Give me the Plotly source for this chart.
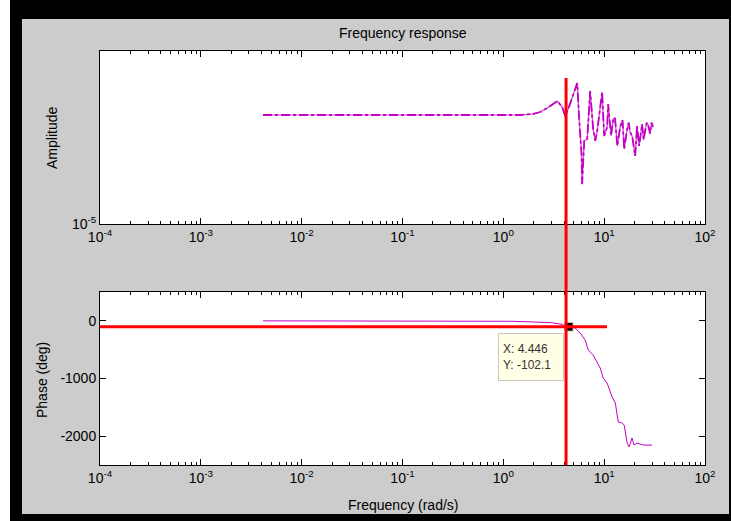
import plotly.graph_objects as go

# ---------------- data ----------------
freq_amp = [0.00414, 0.01, 0.03, 0.1, 0.3, 0.8, 1.47, 2.0, 2.32, 2.73, 3.43, 3.84,
            4.11, 4.40, 4.93, 5.41, 5.65, 5.78, 5.95, 6.05, 6.34, 6.79, 7.26, 7.78,
            8.15, 8.53, 9.55, 10.0, 10.7, 10.96, 11.7, 12.3, 12.8, 13.5, 14.0, 14.4,
            15.2, 15.8, 16.9, 17.5, 18.1, 19.0, 20.3, 21.2, 22.2, 23.8, 24.6, 25.5,
            26.4, 27.3, 28.5, 29.5, 30.5]
amp = [3.61e-5, 3.61e-5, 3.61e-5, 3.61e-5, 3.61e-5, 3.61e-5, 3.61e-5, 3.66e-5, 3.74e-5,
       3.92e-5, 4.25e-5, 3.96e-5, 3.56e-5, 3.87e-5, 4.62e-5, 5.26e-5, 3.44e-5, 2.72e-5,
       2.33e-5, 1.60e-5, 2.66e-5, 2.72e-5, 4.79e-5, 3.06e-5, 2.66e-5, 2.99e-5, 4.73e-5,
       2.82e-5, 3.13e-5, 4.11e-5, 2.82e-5, 3.44e-5, 3.50e-5, 2.51e-5, 2.90e-5, 3.13e-5,
       3.40e-5, 2.42e-5, 3.06e-5, 3.30e-5, 2.95e-5, 2.80e-5, 2.23e-5, 3.17e-5, 2.51e-5,
       3.24e-5, 2.70e-5, 2.99e-5, 3.30e-5, 3.21e-5, 2.90e-5, 3.30e-5, 3.13e-5]

freq_phase = [0.00414, 0.01, 0.1, 0.5, 1.2, 1.6, 2.3, 3.0, 3.8, 4.446, 5.16, 5.78, 6.48,
              6.95, 7.78, 8.53, 9.13, 9.78, 10.7, 12.0, 12.9, 13.8, 15.1, 15.8, 16.9,
              17.7, 18.9, 19.8, 21.2, 24.3, 29.9]
phase = [0, 0, -2, -5, -8, -14, -20, -32, -60, -102.1, -125, -212, -333, -506, -593,
         -714, -818, -992, -1079, -1321, -1425, -1755, -1772, -1807, -2119, -2188,
         -2032, -2154, -2119, -2154, -2154]

datatip_x = 4.446
datatip_y = -102.1
cursor_x = 4.19

x_tickvals = [1e-4, 1e-3, 1e-2, 1e-1, 1e0, 1e1, 1e2]
x_ticktext = ["10<sup>-4</sup>", "10<sup>-3</sup>", "10<sup>-2</sup>", "10<sup>-1</sup>",
              "10<sup>0</sup>", "10<sup>1</sup>", "10<sup>2</sup>"]
amp_tickvals = [1e-5]
amp_ticktext = ["10<sup>-5</sup>"]
phase_tickvals = [-2000, -1000, 0]
phase_ticktext = ["-2000", "-1000", "0"]

# ---------------- styling ----------------
FONT = "Liberation Sans, Arial, Helvetica, sans-serif"
MAG = "#c400c4"
MAG_LINE = "#cc44cc"
GRAY = "#cccccc"

minor_vals = [k * 10.0 ** d for d in range(-4, 2) for k in range(2, 10)]

def xaxis_cfg(anchor):
    return dict(
        type="log", range=[-4, 2], anchor=anchor,
        showgrid=False, zeroline=False, showline=True, linecolor="black", linewidth=1,
        mirror="allticks", ticks="inside", ticklen=6, tickcolor="black",
        tickvals=x_tickvals, ticktext=x_ticktext,
        tickfont=dict(family=FONT, size=14, color="black"),
        minor=dict(tickvals=minor_vals, ticks="inside", ticklen=3, tickcolor="black",
                   showgrid=False),
    )

fig = go.Figure()

fig.add_trace(go.Scatter(x=freq_amp, y=amp, mode="lines", xaxis="x", yaxis="y",
                         line=dict(color=MAG_LINE, width=1.2), showlegend=False,
                         hoverinfo="skip"))
fig.add_trace(go.Scatter(x=freq_amp, y=amp, mode="lines", xaxis="x", yaxis="y",
                         line=dict(color=MAG, width=1.8, dash="dashdot"), showlegend=False,
                         hoverinfo="skip"))
fig.add_trace(go.Scatter(x=freq_phase, y=phase, mode="lines", xaxis="x2", yaxis="y2",
                         line=dict(color=MAG, width=1), showlegend=False,
                         hoverinfo="skip"))

# paper-coordinate helpers (layout pixels -> paper)
W, H = 731, 521
L, R, T, B = 100, 26, 51, 56
def px(xp):
    return (xp - L) / (W - L - R)
def py(yp):
    return (H - B - yp) / (H - T - B)

shapes = [
    # frame
    dict(type="rect", xref="paper", yref="paper", x0=px(-5), x1=px(10), y0=py(-5), y1=py(526),
         fillcolor="white", line=dict(width=0), layer="above"),
    dict(type="rect", xref="paper", yref="paper", x0=px(10), x1=px(22), y0=py(-5), y1=py(526),
         fillcolor="black", line=dict(width=0), layer="above"),
    dict(type="rect", xref="paper", yref="paper", x0=px(10), x1=px(736), y0=py(-5), y1=py(19),
         fillcolor="black", line=dict(width=0), layer="above"),
    dict(type="rect", xref="paper", yref="paper", x0=px(729), x1=px(736), y0=py(-5), y1=py(526),
         fillcolor="black", line=dict(width=0), layer="above"),
    dict(type="rect", xref="paper", yref="paper", x0=px(10), x1=px(736), y0=py(514), y1=py(526),
         fillcolor="black", line=dict(width=0), layer="above"),
    # cursor lines
    dict(type="line", xref="x2", yref="paper", x0=cursor_x, x1=cursor_x, y0=0, y1=py(78),
         line=dict(color="#ff0000", width=3), layer="above"),
    dict(type="line", xref="paper", yref="y2", x0=0, x1=px(607), y0=datatip_y, y1=datatip_y,
         line=dict(color="#ff0000", width=3), layer="above"),
]

fig.add_trace(go.Scatter(x=[datatip_x], y=[datatip_y], mode="markers", xaxis="x2", yaxis="y2",
                         marker=dict(symbol="square", size=9, color="black",
                                     line=dict(color="#f4f0c8", width=1)),
                         showlegend=False, hoverinfo="skip"))

annotations = [
    dict(text="Frequency response", xref="paper", yref="paper", x=0.5, y=py(33),
         xanchor="center", yanchor="middle", showarrow=False,
         font=dict(family=FONT, size=14, color="black")),
    dict(text="Frequency (rad/s)", xref="paper", yref="paper", x=0.5, y=py(505),
         xanchor="center", yanchor="middle", showarrow=False,
         font=dict(family=FONT, size=14, color="black")),
    dict(text="Amplitude", xref="paper", yref="paper", x=px(52), y=py(138),
         xanchor="center", yanchor="middle", showarrow=False, textangle=-90,
         font=dict(family=FONT, size=14, color="black")),
    dict(text="Phase (deg)", xref="paper", yref="paper", x=px(42), y=py(380),
         xanchor="center", yanchor="middle", showarrow=False, textangle=-90,
         font=dict(family=FONT, size=14, color="black")),
    dict(text="X: 4.446<br>Y: -102.1", xref="paper", yref="paper", x=px(498), y=py(333),
         xanchor="left", yanchor="top", showarrow=False, align="left",
         width=56, height=38, borderpad=4,
         bgcolor="#ffffe6", bordercolor="#c8c8c0", borderwidth=1,
         font=dict(family=FONT, size=12, color="#333333")),
]

top_dom = [py(224), 1.0]
bot_dom = [0.0, py(292)]

fig.update_layout(
    width=W, height=H,
    margin=dict(l=L, r=R, t=T, b=B),
    paper_bgcolor=GRAY, plot_bgcolor="white",
    showlegend=False,
    xaxis=dict(xaxis_cfg("y"), domain=[0, 1]),
    yaxis=dict(type="log", range=[-5, -4.115], domain=top_dom, anchor="x",
               showgrid=False, zeroline=False, showline=True, linecolor="black",
               linewidth=1, mirror=True, ticks="", tickvals=amp_tickvals,
               ticktext=amp_ticktext,
               tickfont=dict(family=FONT, size=14, color="black")),
    xaxis2=dict(xaxis_cfg("y2"), domain=[0, 1]),
    yaxis2=dict(range=[-2500, 500], domain=bot_dom, anchor="x2",
                showgrid=False, zeroline=False, showline=True, linecolor="black",
                linewidth=1, mirror="allticks", ticks="inside", ticklen=6,
                tickcolor="black", tickvals=phase_tickvals, ticktext=phase_ticktext,
                tickfont=dict(family=FONT, size=14, color="black")),
    shapes=shapes,
    annotations=annotations,
)

fig.write_html(
    "out.html",
    config={"displayModeBar": False, "staticPlot": True},
    post_script="document.body.style.margin='0';document.body.style.padding='0';"
                "document.body.style.overflow='hidden';",
)
